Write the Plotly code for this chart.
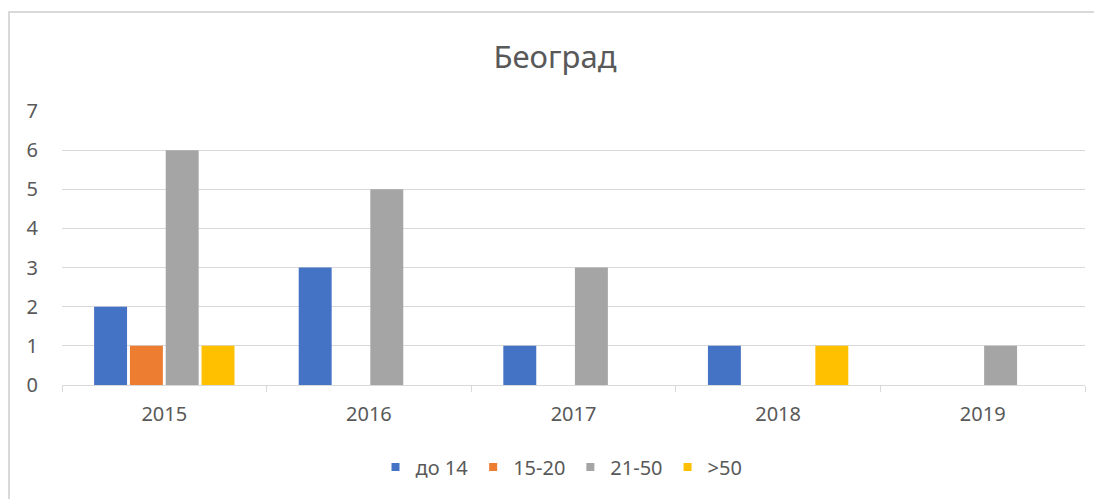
import plotly.graph_objects as go

years = ["2015", "2016", "2017", "2018", "2019"]
series_names = ["до 14", "15-20", "21-50", ">50"]
do14 = [2, 3, 1, 1, 0]
s15_20 = [1, 0, 0, 0, 0]
s21_50 = [6, 5, 3, 0, 1]
s50 = [1, 0, 0, 1, 0]
colors = ["#4472C4", "#ED7D31", "#A5A5A5", "#FFC000"]
y_ticks = [0, 1, 2, 3, 4, 5, 6, 7]

FONT = "Noto Sans"
TXT = "#595959"
fig = go.Figure()
for name, vals, col in zip(series_names, [do14, s15_20, s21_50, s50], colors):
    fig.add_trace(go.Bar(x=years, y=vals, name=name, showlegend=False,
                         marker=dict(color=col, line=dict(width=0))))
for name, col in zip(series_names, colors):
    fig.add_trace(go.Scatter(x=[None], y=[None], mode="markers", name=name,
                             marker=dict(symbol="square", size=8, color=col)))

# page body has an 8px margin; figure placed accordingly
OFF = 8
W, H = 1102 - OFF, 499 - OFF
L, T = 62 - OFF, 111 - OFF
R = W - (1085 - OFF)
B = H - (385 - OFF)
pw, ph = W - L - R, H - T - B

fig.update_layout(
    width=W, height=H,
    margin=dict(l=L, r=R, t=T, b=B, autoexpand=False),
    paper_bgcolor="white", plot_bgcolor="white",
    barmode="group", bargap=0.3, bargroupgap=0.08,
    title=dict(text="Београд", x=0.5, xanchor="center", y=1 - (57 - OFF) / H, yanchor="middle",
               font=dict(family=FONT, size=31, color=TXT)),
    font=dict(family=FONT, size=19, color=TXT),
    legend=dict(orientation="h", x=0.5 - 12 / pw, xanchor="center", y=(H - B - (467 - OFF)) / ph,
                yanchor="middle", font=dict(family=FONT, size=20, color=TXT), itemwidth=30,
                traceorder="normal"),
    xaxis=dict(showline=True, linecolor="#d9d9d9", linewidth=1, ticks="outside", tickson="boundaries",
               ticklen=6, tickcolor="#d9d9d9", showgrid=False, ticklabelstandoff=11,
               tickfont=dict(size=20, color=TXT)),
    yaxis=dict(range=[0, 7], tickvals=y_ticks, showgrid=True, gridcolor="#d9d9d9", gridwidth=1,
               zeroline=False, showline=False, ticks="", ticklabelstandoff=23,
               tickfont=dict(size=20, color=TXT)),
    shapes=[dict(type="rect", xref="paper", yref="paper",
                 x0=(9 - OFF - L) / pw, x1=(W + 20 - L) / pw,
                 y0=-(H + 20 - (H - B)) / ph, y1=1 + (T - (12 - OFF)) / ph,
                 line=dict(color="#d9d9d9", width=2), fillcolor="rgba(0,0,0,0)", layer="below")],
)
fig.write_html("out.html")
